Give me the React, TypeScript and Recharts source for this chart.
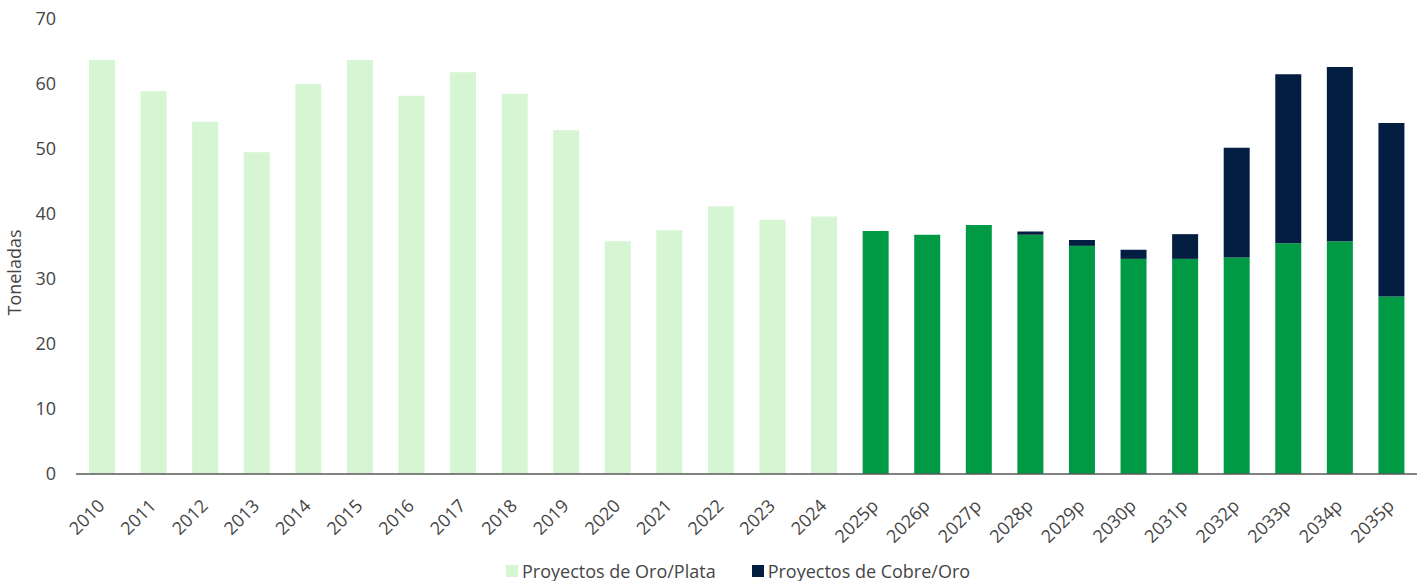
import React from 'react';
import { BarChart, Bar, XAxis, YAxis, Legend, Label } from 'recharts';

const years = [
  '2010', '2011', '2012', '2013', '2014', '2015', '2016', '2017', '2018', '2019',
  '2020', '2021', '2022', '2023', '2024',
  '2025p', '2026p', '2027p', '2028p', '2029p', '2030p', '2031p', '2032p', '2033p', '2034p', '2035p',
];

// Proyectos de Oro/Plata – historical (2010–2024)
const oroPlataHist = [63.7, 58.9, 54.2, 49.5, 60.0, 63.7, 58.2, 61.8, 58.5, 52.9, 35.8, 37.5, 41.2, 39.1, 39.6];
// Proyectos de Oro/Plata – projected (2025p–2035p)
const oroPlataProj = [37.4, 36.8, 38.3, 36.8, 35.1, 33.1, 33.1, 33.3, 35.5, 35.8, 27.3];
// Proyectos de Cobre/Oro – projected (2025p–2035p)
const cobreOro = [0, 0, 0, 0.5, 0.9, 1.4, 3.8, 16.9, 26.0, 26.8, 26.7];

const yTicks = [0, 10, 20, 30, 40, 50, 60, 70];

const legendItems = [
  { label: 'Proyectos de Oro/Plata', color: '#d5f5d3' },
  { label: 'Proyectos de Cobre/Oro', color: '#041e42' },
];

const histCount = oroPlataHist.length;
const data = years.map((year, i) => ({
  year,
  hist: i < histCount ? oroPlataHist[i] : 0,
  proj: i >= histCount ? oroPlataProj[i - histCount] : 0,
  cobre: i >= histCount ? cobreOro[i - histCount] : 0,
}));

const FONT = '"Open Sans", sans-serif';
const TEXT = '#454545';

const XTick = (props: any) => {
  const { x, y, payload } = props;
  return (
    <g transform={`translate(${x + 4},${y + 25})`}>
      <text
        x={0}
        y={0}
        textAnchor="end"
        transform="rotate(-45)"
        fill={TEXT}
        fontSize={18}
        fontFamily={FONT}
      >
        {payload.value}
      </text>
    </g>
  );
};

const LegendContent = () => (
  <div
    style={{
      display: 'flex',
      alignItems: 'center',
      paddingLeft: 506,
      paddingTop: 3,
      height: 26,
      fontFamily: FONT,
      fontSize: 18,
      color: TEXT,
    }}
  >
    {legendItems.map((it, i) => (
      <div key={it.label} style={{ display: 'flex', alignItems: 'center', marginRight: i === 0 ? 36 : 0 }}>
        <span style={{ display: 'inline-block', width: 12, height: 12, background: it.color, marginRight: 4 }} />
        <span>{it.label}</span>
      </div>
    ))}
  </div>
);

const YLabel = (props: any) => {
  const vb = props.viewBox || {};
  const cx = 16;
  const cy = vb.y + vb.height / 2 + 26;
  return (
    <text
      x={cx}
      y={cy}
      transform={`rotate(-90, ${cx}, ${cy})`}
      textAnchor="middle"
      dominantBaseline="middle"
      fill={TEXT}
      fontSize={18}
      fontFamily={FONT}
    >
      Toneladas
    </text>
  );
};

export default function App() {
  return (
    <div style={{ position: 'absolute', left: 0, top: 0, width: 1423, height: 581, background: '#fff' }}>
      <BarChart
        width={1423}
        height={581}
        data={data}
        margin={{ top: 19, right: 6, left: 0, bottom: 0 }}
        barSize={26}
      >
        <XAxis
          dataKey="year"
          interval={0}
          tickLine={false}
          axisLine={{ stroke: '#595959', strokeWidth: 1.5 }}
          tick={<XTick />}
          height={81}
        />
        <YAxis
          domain={[0, 70]}
          ticks={yTicks}
          interval={0}
          width={76}
          axisLine={false}
          tickLine={false}
          tickSize={6}
          tickMargin={14}
          tick={{ fill: TEXT, fontSize: 18, fontFamily: FONT }}
        >
          <Label content={<YLabel />} />
        </YAxis>
        <Legend verticalAlign="bottom" content={<LegendContent />} wrapperStyle={{ left: 0, width: 1423, height: 26 }} />
        <Bar dataKey="hist" stackId="a" fill="#d5f5d3" isAnimationActive={false} />
        <Bar dataKey="proj" stackId="a" fill="#009a44" isAnimationActive={false} />
        <Bar dataKey="cobre" stackId="a" fill="#041e42" isAnimationActive={false} />
      </BarChart>
    </div>
  );
}
